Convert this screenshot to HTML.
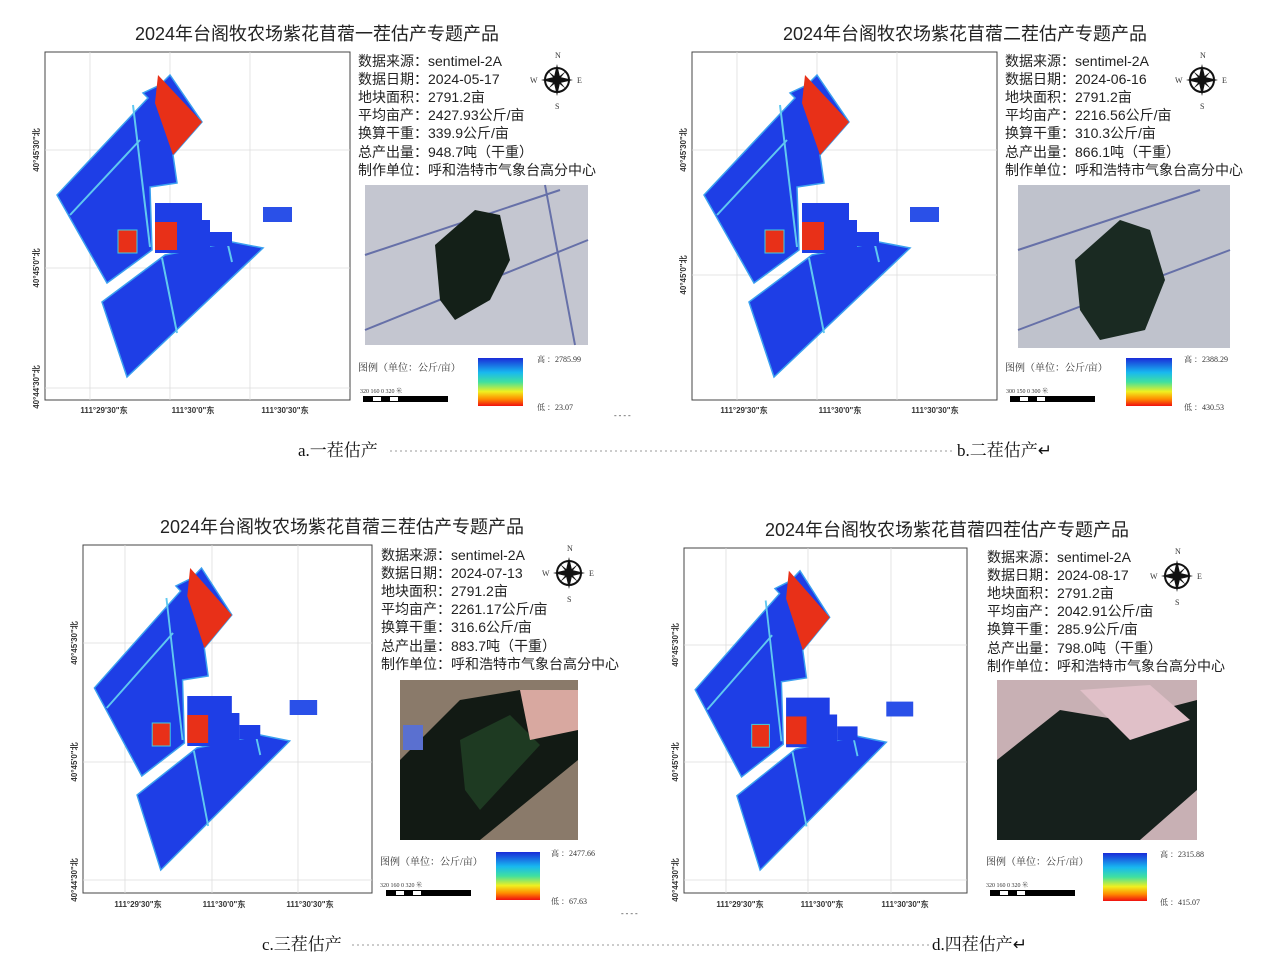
<!DOCTYPE html>
<html><head><meta charset="utf-8"><style>
html,body{margin:0;padding:0;background:#fff;}
svg{display:block;font-family:"Liberation Sans","Noto Sans CJK SC",sans-serif;}
.t{font-size:18px;fill:#222;}
.i{font-size:14px;fill:#222;}
.s{font-family:"Liberation Serif","Noto Serif CJK SC",serif;font-size:8px;fill:#333;}
.ax{font-family:"Liberation Sans",sans-serif;font-size:8px;font-weight:bold;fill:#333;}
.cap{font-family:"Liberation Serif","Noto Serif CJK SC",serif;font-size:17px;fill:#111;}
</style></head><body>
<svg width="1268" height="979" viewBox="0 0 1268 979" xmlns="http://www.w3.org/2000/svg">
<defs>
<linearGradient id="lg" x1="0" y1="0" x2="0" y2="1">
<stop offset="0" stop-color="#1a2bd8"/><stop offset="0.3" stop-color="#18b8f0"/><stop offset="0.5" stop-color="#40e0a0"/><stop offset="0.7" stop-color="#f0f020"/><stop offset="0.85" stop-color="#ff9000"/><stop offset="1" stop-color="#f01010"/></linearGradient>
<g id="map">
<polygon points="57,195 148,98 143,93 160,85 170,75 202,122 173,155 177,183 150,187 152,250 107,283" fill="#1e3ee6" stroke="#3aa0f0" stroke-width="1.5"/>
<polygon points="158,75 202,122 173,155 155,103" fill="#e83018"/>
<line x1="70" y1="215" x2="140" y2="140" stroke="#60c8f0" stroke-width="2"/>
<line x1="133" y1="105" x2="150" y2="247" stroke="#60c8f0" stroke-width="2"/>
<polygon points="102,302 165,255 232,242 263,248 127,377" fill="#1e3ee6" stroke="#3aa0f0" stroke-width="1.5"/>
<line x1="162" y1="258" x2="177" y2="333" stroke="#60c8f0" stroke-width="2"/>
<line x1="228" y1="245" x2="232" y2="262" stroke="#60c8f0" stroke-width="2"/>
<polygon points="155,203 202,203 202,220 210,220 210,253 155,253" fill="#1e3ee6"/>
<rect x="210" y="232" width="22" height="14" fill="#1e3ee6"/>
<rect x="155" y="222" width="22" height="28" fill="#e83018"/>
<rect x="118" y="230" width="19" height="23" fill="#e83018" stroke="#40d0e0"/>
<rect x="263" y="207" width="29" height="15" fill="#2a50e8"/>
</g>
<g id="comp"><circle r="12" fill="none" stroke="#111" stroke-width="2"/><polygon points="0,-16 3,-3 16,0 3,3 0,16 -3,3 -16,0 -3,-3" fill="#111"/><polygon points="-9,-9 1,-1 9,9 -1,1" fill="#111"/><polygon points="9,-9 1,1 -9,9 -1,-1" fill="#111"/>
<text x="-2" y="-22" class="s">N</text><text x="-2" y="29" class="s">S</text><text x="-27" y="3" class="s">W</text><text x="20" y="3" class="s">E</text></g>
<g id="sb"><rect x="0" y="0" width="85" height="6" fill="#000"/><rect x="10" y="1" width="8" height="4" fill="#fff"/><rect x="27" y="1" width="8" height="4" fill="#fff"/></g>
</defs>

<!-- PANEL A -->
<text x="317" y="40" text-anchor="middle" class="t">2024年台阁牧农场紫花苜蓿一茬估产专题产品</text>
<rect x="45" y="52" width="305" height="348" fill="#fff" stroke="#444"/>
<g stroke="#ddd" stroke-width="0.8"><line x1="90" y1="52" x2="90" y2="400"/><line x1="170" y1="52" x2="170" y2="400"/><line x1="250" y1="52" x2="250" y2="400"/><line x1="45" y1="150" x2="350" y2="150"/><line x1="45" y1="268" x2="350" y2="268"/><line x1="45" y1="388" x2="350" y2="388"/></g>
<use href="#map"/>
<text class="ax" x="104" y="413" text-anchor="middle">111°29'30"东</text><text class="ax" x="193" y="413" text-anchor="middle">111°30'0"东</text><text class="ax" x="285" y="413" text-anchor="middle">111°30'30"东</text>
<text class="ax" transform="translate(39,150) rotate(-90)" text-anchor="middle">40°45'30"北</text><text class="ax" transform="translate(39,268) rotate(-90)" text-anchor="middle">40°45'0"北</text><text class="ax" transform="translate(39,387) rotate(-90)" text-anchor="middle">40°44'30"北</text>
<g class="i"><text x="358" y="66">数据来源：sentimel-2A</text><text x="358" y="84">数据日期：2024-05-17</text><text x="358" y="102">地块面积：2791.2亩</text><text x="358" y="120">平均亩产：2427.93公斤/亩</text><text x="358" y="138">换算干重：339.9公斤/亩</text><text x="358" y="157">总产出量：948.7吨（干重）</text><text x="358" y="175">制作单位：呼和浩特市气象台高分中心</text></g>
<use href="#comp" x="557" y="80"/>
<rect x="365" y="185" width="223" height="160" fill="#c4c6d0"/>
<g stroke="#6670a8" stroke-width="2" fill="none"><line x1="365" y1="255" x2="560" y2="190"/><line x1="365" y1="330" x2="588" y2="240"/><line x1="545" y1="185" x2="575" y2="345"/></g>
<polygon points="435,245 475,210 500,215 510,260 490,300 455,320 440,300" fill="#142018"/>
<text x="358" y="371" class="s" style="font-size:10px">图例（单位：公斤/亩）</text>
<rect x="478" y="358" width="45" height="48" fill="url(#lg)"/>
<text x="537" y="362" class="s">高 ：2785.99</text><text x="537" y="410" class="s">低 ：23.07</text>
<text x="360" y="393" class="s" style="font-size:6px">320  160    0          320 米</text>
<use href="#sb" x="363" y="396"/>

<!-- PANEL B -->
<text x="965" y="40" text-anchor="middle" class="t">2024年台阁牧农场紫花苜蓿二茬估产专题产品</text>
<rect x="692" y="52" width="305" height="348" fill="#fff" stroke="#444"/>
<g stroke="#ddd" stroke-width="0.8"><line x1="737" y1="52" x2="737" y2="400"/><line x1="817" y1="52" x2="817" y2="400"/><line x1="897" y1="52" x2="897" y2="400"/><line x1="692" y1="150" x2="997" y2="150"/><line x1="692" y1="275" x2="997" y2="275"/></g>
<use href="#map" x="647"/>
<text class="ax" x="744" y="413" text-anchor="middle">111°29'30"东</text><text class="ax" x="840" y="413" text-anchor="middle">111°30'0"东</text><text class="ax" x="935" y="413" text-anchor="middle">111°30'30"东</text>
<text class="ax" transform="translate(686,150) rotate(-90)" text-anchor="middle">40°45'30"北</text><text class="ax" transform="translate(686,275) rotate(-90)" text-anchor="middle">40°45'0"北</text>
<g class="i"><text x="1005" y="66">数据来源：sentimel-2A</text><text x="1005" y="84">数据日期：2024-06-16</text><text x="1005" y="102">地块面积：2791.2亩</text><text x="1005" y="120">平均亩产：2216.56公斤/亩</text><text x="1005" y="138">换算干重：310.3公斤/亩</text><text x="1005" y="157">总产出量：866.1吨（干重）</text><text x="1005" y="175">制作单位：呼和浩特市气象台高分中心</text></g>
<use href="#comp" x="1202" y="80"/>
<rect x="1018" y="185" width="212" height="163" fill="#bfc2cc"/>
<g stroke="#6670a8" stroke-width="2" fill="none"><line x1="1018" y1="250" x2="1200" y2="190"/><line x1="1018" y1="330" x2="1230" y2="250"/></g>
<polygon points="1075,260 1120,220 1150,230 1165,280 1145,330 1100,340 1080,310" fill="#1a2a22"/>
<text x="1005" y="371" class="s" style="font-size:10px">图例（单位：公斤/亩）</text>
<rect x="1126" y="358" width="46" height="48" fill="url(#lg)"/>
<text x="1184" y="362" class="s">高 ：2388.29</text><text x="1184" y="410" class="s">低 ：430.53</text>
<text x="1006" y="393" class="s" style="font-size:6px">300  150    0          300 米</text>
<use href="#sb" x="1010" y="396"/>

<text x="614" y="418" class="s">- - - -</text>
<text x="298" y="456" class="cap">a.一茬估产</text>
<line x1="390" y1="451" x2="955" y2="451" stroke="#999" stroke-dasharray="2,3"/>
<text x="957" y="456" class="cap">b.二茬估产↵</text>

<!-- PANEL C -->
<text x="342" y="533" text-anchor="middle" class="t">2024年台阁牧农场紫花苜蓿三茬估产专题产品</text>
<rect x="83" y="545" width="289" height="348" fill="#fff" stroke="#444"/>
<g stroke="#ddd" stroke-width="0.8"><line x1="125" y1="545" x2="125" y2="893"/><line x1="212" y1="545" x2="212" y2="893"/><line x1="298" y1="545" x2="298" y2="893"/><line x1="83" y1="643" x2="372" y2="643"/><line x1="83" y1="762" x2="372" y2="762"/><line x1="83" y1="880" x2="372" y2="880"/></g>
<g transform="translate(83,545) scale(0.948,1) translate(-45,-52)"><use href="#map"/></g>
<text class="ax" x="138" y="907" text-anchor="middle">111°29'30"东</text><text class="ax" x="224" y="907" text-anchor="middle">111°30'0"东</text><text class="ax" x="310" y="907" text-anchor="middle">111°30'30"东</text>
<text class="ax" transform="translate(77,643) rotate(-90)" text-anchor="middle">40°45'30"北</text><text class="ax" transform="translate(77,762) rotate(-90)" text-anchor="middle">40°45'0"北</text><text class="ax" transform="translate(77,880) rotate(-90)" text-anchor="middle">40°44'30"北</text>
<g class="i"><text x="381" y="560">数据来源：sentimel-2A</text><text x="381" y="578">数据日期：2024-07-13</text><text x="381" y="596">地块面积：2791.2亩</text><text x="381" y="614">平均亩产：2261.17公斤/亩</text><text x="381" y="632">换算干重：316.6公斤/亩</text><text x="381" y="651">总产出量：883.7吨（干重）</text><text x="381" y="669">制作单位：呼和浩特市气象台高分中心</text></g>
<use href="#comp" x="569" y="573"/>
<rect x="400" y="680" width="178" height="160" fill="#8a7a6a"/>
<polygon points="400,760 460,700 520,690 578,700 578,760 480,840 400,840" fill="#121a14"/>
<polygon points="460,740 510,715 540,745 480,810 465,790" fill="#1e3a22"/>
<polygon points="520,690 578,690 578,730 530,740" fill="#d8a8a0"/>
<rect x="403" y="725" width="20" height="25" fill="#5a70d0"/>
<text x="380" y="865" class="s" style="font-size:10px">图例（单位：公斤/亩）</text>
<rect x="496" y="852" width="44" height="48" fill="url(#lg)"/>
<text x="551" y="856" class="s">高 ：2477.66</text><text x="551" y="904" class="s">低 ：67.63</text>
<text x="380" y="887" class="s" style="font-size:6px">320  160    0          320 米</text>
<use href="#sb" x="386" y="890"/>

<!-- PANEL D -->
<text x="947" y="536" text-anchor="middle" class="t">2024年台阁牧农场紫花苜蓿四茬估产专题产品</text>
<rect x="684" y="548" width="283" height="345" fill="#fff" stroke="#444"/>
<g stroke="#ddd" stroke-width="0.8"><line x1="726" y1="548" x2="726" y2="893"/><line x1="808" y1="548" x2="808" y2="893"/><line x1="891" y1="548" x2="891" y2="893"/><line x1="684" y1="645" x2="967" y2="645"/><line x1="684" y1="762" x2="967" y2="762"/><line x1="684" y1="880" x2="967" y2="880"/></g>
<g transform="translate(684,548) scale(0.928,0.991) translate(-45,-52)"><use href="#map"/></g>
<text class="ax" x="740" y="907" text-anchor="middle">111°29'30"东</text><text class="ax" x="822" y="907" text-anchor="middle">111°30'0"东</text><text class="ax" x="905" y="907" text-anchor="middle">111°30'30"东</text>
<text class="ax" transform="translate(678,645) rotate(-90)" text-anchor="middle">40°45'30"北</text><text class="ax" transform="translate(678,762) rotate(-90)" text-anchor="middle">40°45'0"北</text><text class="ax" transform="translate(678,880) rotate(-90)" text-anchor="middle">40°44'30"北</text>
<g class="i"><text x="987" y="562">数据来源：sentimel-2A</text><text x="987" y="580">数据日期：2024-08-17</text><text x="987" y="598">地块面积：2791.2亩</text><text x="987" y="616">平均亩产：2042.91公斤/亩</text><text x="987" y="634">换算干重：285.9公斤/亩</text><text x="987" y="653">总产出量：798.0吨（干重）</text><text x="987" y="671">制作单位：呼和浩特市气象台高分中心</text></g>
<use href="#comp" x="1177" y="576"/>
<rect x="997" y="680" width="200" height="160" fill="#c8b0b4"/>
<polygon points="997,760 1060,710 1120,720 1197,700 1197,790 1140,840 997,840" fill="#16201c"/>
<polygon points="1080,690 1150,685 1190,720 1130,740" fill="#e0c0c8"/>
<text x="986" y="865" class="s" style="font-size:10px">图例（单位：公斤/亩）</text>
<rect x="1103" y="853" width="44" height="48" fill="url(#lg)"/>
<text x="1160" y="857" class="s">高 ：2315.88</text><text x="1160" y="905" class="s">低 ：415.07</text>
<text x="986" y="887" class="s" style="font-size:6px">320  160    0          320 米</text>
<use href="#sb" x="990" y="890"/>

<text x="621" y="916" class="s">- - - -</text>
<text x="262" y="950" class="cap">c.三茬估产</text>
<line x1="352" y1="945" x2="930" y2="945" stroke="#999" stroke-dasharray="2,3"/>
<text x="932" y="950" class="cap">d.四茬估产↵</text>
</svg>
</body></html>
